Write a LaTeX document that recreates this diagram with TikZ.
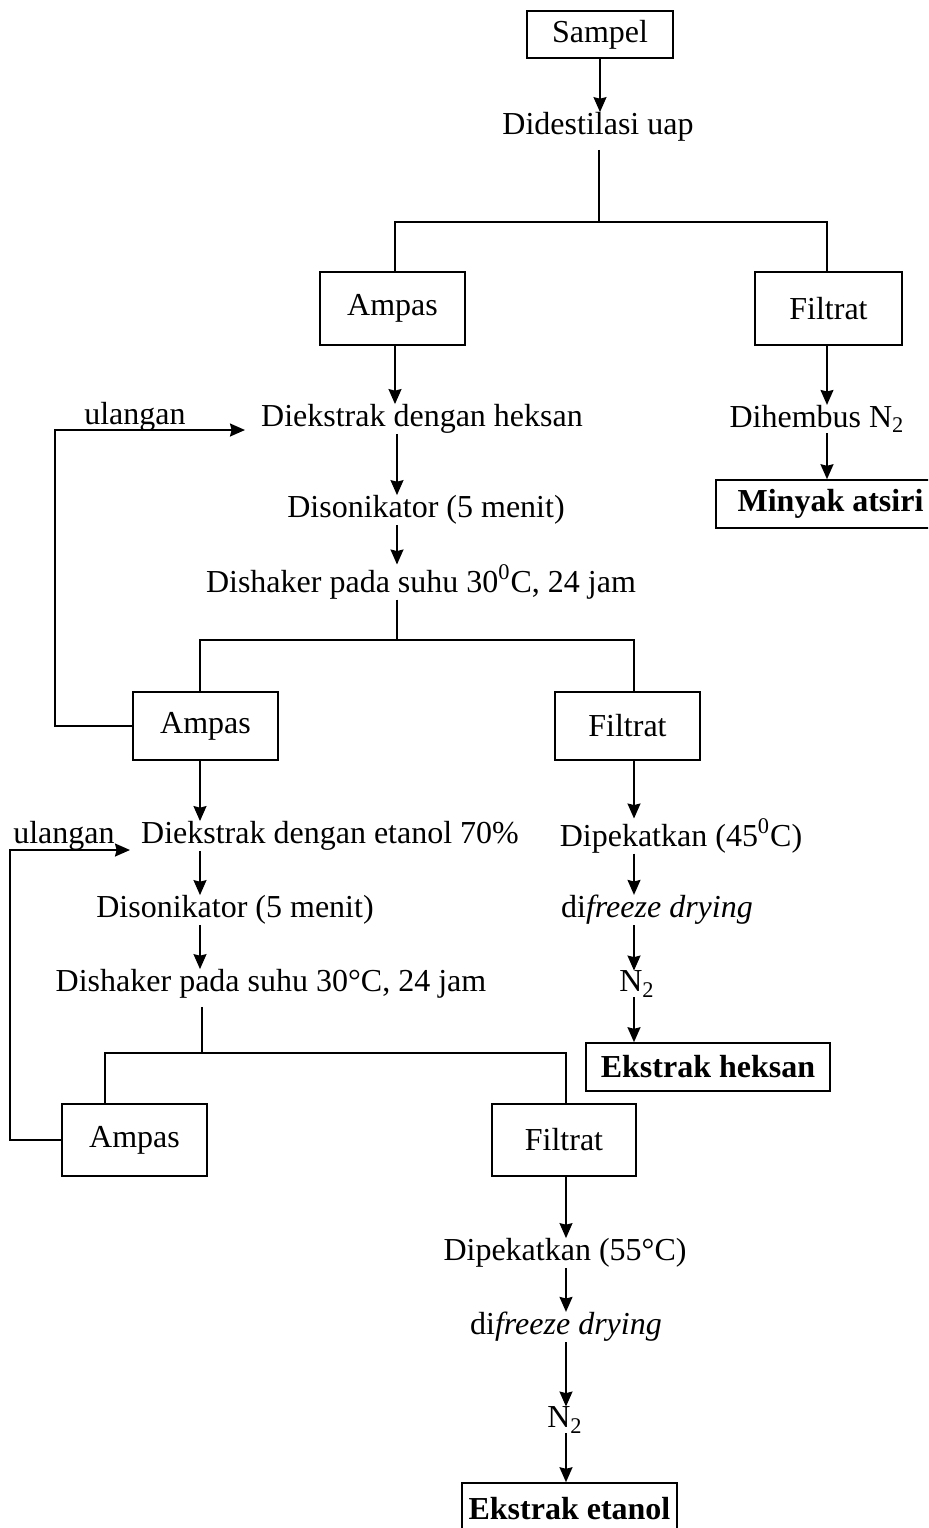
\documentclass[tikz,border=0pt]{standalone}
\usepackage{fontspec}
\setmainfont{Liberation Serif}
\usetikzlibrary{arrows.meta}
\begin{document}
\begin{tikzpicture}[x=0.5pt,y=-0.5pt,
  font=\fontsize{16}{19}\selectfont,
  txt/.style={inner sep=0pt,yshift=-2pt},
  box/.style={draw,line width=0.8pt,inner sep=0pt},
  boldbox/.style={box,font=\fontsize{16}{19}\selectfont\bfseries},
  ln/.style={line width=0.8pt},
  arr/.style={ln,-{Stealth[length=7.5pt,width=6.5pt,inset=0.8pt]}}]
\clip (0,0) rectangle (928,1528);
% nodes
\node[box,minimum width=73pt,minimum height=23.5pt] (sampel) at (600,34.5) {Sampel};
\node[txt] (dest) at (598,123) {Didestilasi uap};
\node[box,minimum width=72.5pt,minimum height=36.5pt] (amp1) at (392.5,308.5) {Ampas};
\node[box,minimum width=73.5pt,minimum height=36.5pt] (fil1) at (828.5,308.5) {Filtrat};
\node[txt] (ekh) at (422,415) {Diekstrak dengan heksan};
\node[txt] (ul1) at (135,413) {ulangan};
\node[txt] (son1) at (426,506) {Disonikator (5 menit)};
\node[txt] (shk1) at (421,578) {Dishaker pada suhu 30\textsuperscript{0}C, 24 jam};
\node[box,minimum width=72.5pt,minimum height=34pt] (amp2) at (205.5,726) {Ampas};
\node[box,minimum width=72.5pt,minimum height=34pt] (fil2) at (627.5,726) {Filtrat};
\node[txt] (hem) at (817,415) {Dihembus N\textsubscript{2}};
\node[boldbox,minimum width=114.5pt,minimum height=24pt] (miny) at (830.5,504) {Minyak atsiri};
\node[txt] (eke) at (330,832) {Diekstrak dengan etanol 70\%};
\node[txt] (ul2) at (64,832) {ulangan};
\node[txt] (son2) at (235,906) {Disonikator (5 menit)};
\node[txt] (shk2) at (271,980) {Dishaker pada suhu 30°C, 24 jam};
\node[box,minimum width=72.5pt,minimum height=36pt] (amp3) at (134.5,1140) {Ampas};
\node[box,minimum width=72pt,minimum height=36pt] (fil3) at (564,1140) {Filtrat};
\node[txt] (pek1) at (681,832) {Dipekatkan (45\textsuperscript{0}C)};
\node[txt] (frz1) at (657,906) {di\textit{freeze drying}};
\node[txt] (n21) at (637,980) {N\textsubscript{2}};
\node[boldbox,minimum width=122pt,minimum height=24pt] (ekhk) at (708,1067) {Ekstrak heksan};
\node[txt] (pek2) at (565,1249) {Dipekatkan (55°C)};
\node[txt] (frz2) at (566,1323) {di\textit{freeze drying}};
\node[txt] (n22) at (565,1416) {N\textsubscript{2}};
\node[boldbox,minimum width=107.5pt,minimum height=26pt] (eket) at (569.5,1509) {Ekstrak etanol};
% junction coordinates
\coordinate (s1t) at (599,222);
\coordinate (s1l) at (395,222);
\coordinate (s1r) at (827,222);
\coordinate (s2t) at (397,640);
\coordinate (s2l) at (200,640);
\coordinate (s2r) at (634,640);
\coordinate (s3t) at (202,1053);
\coordinate (s3l) at (105,1053);
\coordinate (s3r) at (566,1053);
\coordinate (lp1) at (55,430);
\coordinate (lp1e) at (245,430);
\coordinate (lp2) at (10,850);
\coordinate (lp2e) at (130,850);
% connectors
\draw[arr] (sampel.south) -- (sampel.south |- dest.north);
\draw[ln,shorten <=4pt] (dest.south -| s1t) -- (s1t);
\draw[ln] (s1l |- amp1.north) -- (s1l) -- (s1r) -- (s1r |- fil1.north);
\draw[arr] (s1l |- amp1.south) -- (s1l |- ekh.north);
\draw[arr] (s1r |- fil1.south) -- (s1r |- hem.north);
\draw[arr] (s1r |- hem.south) -- (s1r |- miny.north);
\draw[arr] (s2t |- ekh.south) -- (s2t |- son1.north);
\draw[arr] (s2t |- son1.south) -- (s2t |- shk1.north);
\draw[ln] (s2t |- shk1.south) -- (s2t);
\draw[ln] (s2l |- amp2.north) -- (s2l) -- (s2r) -- (s2r |- fil2.north);
\draw[arr] (amp2.west) -| (lp1) -- (lp1e);
\draw[arr] (s2l |- amp2.south) -- (s2l |- eke.north);
\draw[arr] (s2l |- eke.south) -- (s2l |- son2.north);
\draw[arr] (s2l |- son2.south) -- (s2l |- shk2.north);
\draw[ln,shorten <=4pt] (s3t |- shk2.south) -- (s3t);
\draw[ln] (s3l |- amp3.north) -- (s3l) -- (s3r) -- (s3r |- fil3.north);
\draw[arr] (amp3.west) -| (lp2) -- (lp2e);
\draw[arr] (s2r |- fil2.south) -- (s2r |- pek1.north);
\draw[arr] (s2r |- pek1.south) -- (s2r |- frz1.north);
\draw[arr] (s2r |- frz1.south) -- (s2r |- n21.north);
\draw[arr] (s2r |- n21.south) -- (s2r |- ekhk.north);
\draw[arr] (s3r |- fil3.south) -- (s3r |- pek2.north);
\draw[arr] (s3r |- pek2.south) -- (s3r |- frz2.north);
\draw[arr] (s3r |- frz2.south) -- (s3r |- n22.north);
\draw[arr] (s3r |- n22.south) -- (s3r |- eket.north);
\end{tikzpicture}
\end{document}
